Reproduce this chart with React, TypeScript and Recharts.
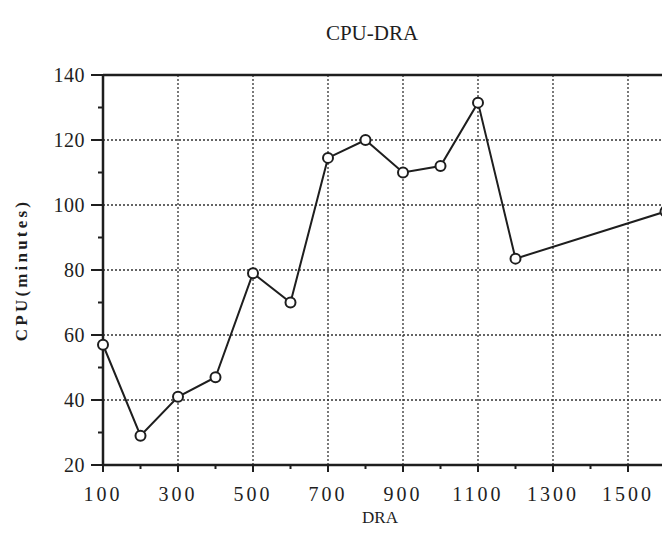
import { LineChart, Line, XAxis, YAxis, ReferenceLine } from 'recharts';

const DRA = [100, 200, 300, 400, 500, 600, 700, 800, 900, 1000, 1100, 1200, 1600];
const CPU = [57, 29, 41, 47, 79, 70, 114.5, 120, 110, 112, 131.5, 83.5, 98];

const X_TICKS = [100, 200, 300, 400, 500, 600, 700, 800, 900, 1000, 1100, 1200, 1300, 1400, 1500, 1600];
const X_LABELS = [100, 300, 500, 700, 900, 1100, 1300, 1500];
const X_GRID = [300, 500, 700, 900, 1100, 1300, 1500];

const Y_TICKS = [20, 30, 40, 50, 60, 70, 80, 90, 100, 110, 120, 130, 140];
const Y_LABELS = [20, 40, 60, 80, 100, 120, 140];
const Y_GRID = [40, 60, 80, 100, 120];

const data = DRA.map((d, i) => ({ dra: d, cpu: CPU[i] }));

const INK = '#1e1e1e';
const SERIF = '"Liberation Serif", "DejaVu Serif", serif';

const XTick = (props: any) => {
  const { x, y, payload } = props;
  const major = X_LABELS.includes(payload.value);
  return (
    <g>
      <line x1={x} x2={x} y1={y} y2={y + (major ? 7 : 4)} stroke={INK} strokeWidth={2} />
      {major && (
        <text x={x} y={y + 36} textAnchor="middle" fontFamily={SERIF} fontSize={20} letterSpacing={3} fill={INK}>
          {payload.value}
        </text>
      )}
    </g>
  );
};

const YTick = (props: any) => {
  const { x, y, payload } = props;
  const major = Y_LABELS.includes(payload.value);
  return (
    <g>
      <line x1={x - (major ? 12 : 5)} x2={x} y1={y} y2={y} stroke={INK} strokeWidth={2} />
      {major && (
        <text x={x - 18} y={y + 7} textAnchor="end" fontFamily={SERIF} fontSize={20} letterSpacing={0.5} fill={INK}>
          {payload.value}
        </text>
      )}
    </g>
  );
};

export default function App() {
  return (
    <div style={{ position: 'absolute', left: 0, top: 0, width: 662, height: 542, overflow: 'hidden', background: '#fff' }}>
      <LineChart width={670} height={542} data={data} margin={{ top: 75, right: 4.5, bottom: 47, left: 43 }}>
        <XAxis
          dataKey="dra"
          type="number"
          domain={[100, 1600]}
          ticks={X_TICKS}
          interval={0}
          height={30}
          tickSize={0}
          tickMargin={0}
          tick={<XTick />}
          axisLine={{ stroke: INK, strokeWidth: 2.5 }}
        />
        <YAxis
          type="number"
          domain={[20, 140]}
          ticks={Y_TICKS}
          interval={0}
          width={60}
          tickSize={0}
          tickMargin={0}
          tick={<YTick />}
          axisLine={{ stroke: INK, strokeWidth: 2.5 }}
        />
        {X_GRID.map(v => (
          <ReferenceLine key={'x' + v} x={v} stroke="#333" strokeWidth={1.3} strokeDasharray="2 2" />
        ))}
        {Y_GRID.map(v => (
          <ReferenceLine key={'y' + v} y={v} stroke="#333" strokeWidth={1.3} strokeDasharray="2 2" />
        ))}
        <ReferenceLine y={140} stroke={INK} strokeWidth={2.5} />
        <Line
          dataKey="cpu"
          stroke={INK}
          strokeWidth={2}
          dot={{ r: 5, fill: '#fff', stroke: INK, strokeWidth: 2, clipDot: false }}
          isAnimationActive={false}
        />
      </LineChart>
      <div style={{ position: 'absolute', left: 272, width: 200, top: 21, textAlign: 'center', fontFamily: SERIF, fontSize: 21, color: INK }}>
        CPU-DRA
      </div>
      <div style={{ position: 'absolute', left: 330, width: 100, top: 508, textAlign: 'center', fontFamily: SERIF, fontSize: 17, color: INK }}>
        DRA
      </div>
      <div
        style={{
          position: 'absolute',
          left: 22 - 100,
          top: 270 - 10,
          width: 200,
          height: 20,
          lineHeight: '20px',
          textAlign: 'center',
          transform: 'rotate(-90deg)',
          fontFamily: SERIF,
          fontWeight: 'bold',
          fontSize: 17,
          letterSpacing: 3.2,
          color: INK,
        }}
      >
        CPU(minutes)
      </div>
    </div>
  );
}
